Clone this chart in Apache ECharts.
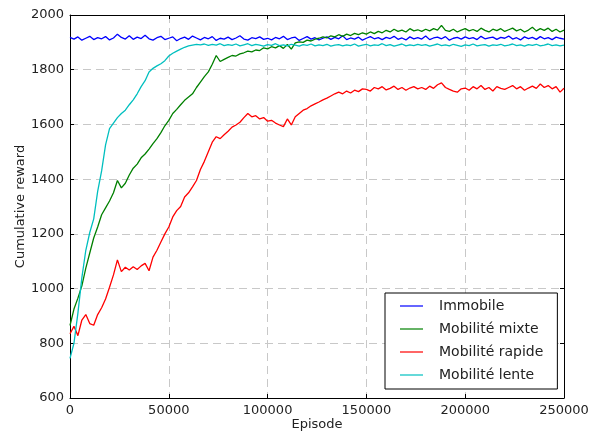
<!DOCTYPE html>
<html><head><meta charset="utf-8">
<script src="https://cdn.jsdelivr.net/npm/echarts@6/dist/echarts.min.js"></script>
<style>html,body{margin:0;padding:0;background:#fff}#c{width:589px;height:434px}</style>
</head><body><div id="c"></div>
<script>
const episodes = [0,2000,4000,6000,8000,10000,12000,14000,16000,18000,
20000,22000,24000,26000,28000,30000,32000,34000,36000,38000,
40000,42000,44000,46000,48000,50000,52000,54000,56000,58000,
60000,62000,64000,66000,68000,70000,72000,74000,76000,78000,
80000,82000,84000,86000,88000,90000,92000,94000,96000,98000,
100000,102000,104000,106000,108000,110000,112000,114000,116000,118000,
120000,122000,124000,126000,128000,130000,132000,134000,136000,138000,
140000,142000,144000,146000,148000,150000,152000,154000,156000,158000,
160000,162000,164000,166000,168000,170000,172000,174000,176000,178000,
180000,182000,184000,186000,188000,190000,192000,194000,196000,198000,
200000,202000,204000,206000,208000,210000,212000,214000,216000,218000,
220000,222000,224000,226000,228000,230000,232000,234000,236000,238000,
240000,242000,244000,246000,248000,250000];

const immobile = [1918,1912,1920,1908,1915,1922,1910,1917,1913,1921,
1909,1916,1930,1918,1912,1924,1911,1919,1914,1926,
1913,1908,1917,1922,1910,1915,1920,1906,1914,1919,
1911,1923,1916,1909,1918,1913,1921,1907,1915,1912,
1919,1910,1916,1924,1912,1908,1917,1914,1920,1911,
1915,1909,1918,1913,1922,1910,1916,1919,1907,1914,
1921,1912,1917,1909,1915,1920,1911,1918,1913,1924,
1910,1916,1912,1919,1908,1915,1921,1913,1917,1910,
1918,1914,1922,1911,1916,1909,1920,1913,1917,1912,
1923,1910,1916,1919,1913,1921,1908,1915,1918,1912,
1920,1914,1917,1910,1922,1913,1916,1919,1911,1918,
1915,1923,1912,1917,1909,1920,1914,1918,1911,1921,
1913,1917,1910,1919,1915,1912];

const mixte = [865,925,965,1010,1075,1130,1185,1225,1270,1295,
1320,1350,1395,1368,1385,1415,1440,1455,1478,1492,
1510,1530,1548,1570,1595,1615,1640,1655,1672,1688,
1700,1712,1735,1755,1775,1792,1820,1852,1830,1838,
1845,1852,1850,1858,1862,1868,1865,1872,1870,1880,
1876,1884,1880,1888,1878,1892,1875,1898,1902,1900,
1908,1905,1912,1915,1920,1916,1924,1920,1928,1922,
1930,1925,1933,1928,1935,1930,1938,1932,1940,1935,
1944,1938,1948,1940,1945,1938,1950,1942,1946,1940,
1948,1942,1950,1945,1962,1944,1940,1948,1938,1945,
1950,1942,1947,1940,1952,1944,1938,1948,1943,1950,
1940,1946,1952,1942,1948,1938,1945,1955,1942,1950,
1944,1952,1940,1948,1938,1945];

const rapide = [835,862,828,885,905,872,866,905,930,962,
1005,1050,1105,1062,1078,1068,1080,1070,1083,1092,
1065,1115,1140,1170,1200,1225,1262,1285,1300,1335,
1350,1372,1395,1435,1465,1500,1535,1555,1548,1562,
1575,1590,1598,1608,1625,1640,1628,1632,1620,1625,
1612,1615,1605,1598,1592,1620,1598,1628,1640,1652,
1658,1668,1675,1682,1690,1696,1704,1712,1718,1712,
1722,1715,1725,1720,1730,1728,1722,1735,1730,1738,
1726,1732,1740,1728,1735,1725,1733,1738,1730,1735,
1728,1740,1732,1745,1752,1735,1728,1722,1718,1730,
1733,1725,1738,1730,1742,1728,1735,1722,1738,1732,
1728,1735,1742,1730,1738,1725,1733,1740,1732,1748,
1735,1742,1730,1738,1718,1732];

const lente = [745,800,910,1040,1140,1205,1255,1355,1430,1525,
1585,1605,1625,1640,1652,1672,1690,1712,1738,1760,
1792,1805,1814,1822,1833,1850,1860,1868,1875,1882,
1887,1890,1893,1891,1894,1889,1893,1890,1895,1888,
1892,1889,1894,1887,1891,1895,1888,1893,1890,1886,
1892,1889,1895,1888,1891,1887,1893,1890,1886,1892,
1889,1894,1887,1891,1888,1893,1886,1890,1892,1887,
1891,1888,1894,1886,1890,1893,1887,1891,1889,1895,
1888,1892,1886,1890,1894,1887,1891,1888,1893,1889,
1892,1886,1890,1894,1888,1891,1887,1893,1889,1885,
1891,1888,1894,1887,1890,1892,1886,1891,1889,1893,
1887,1890,1894,1888,1891,1886,1892,1889,1893,1887,
1890,1894,1888,1891,1887,1890];

const seriesNames = ['Immobile','Mobilité mixte','Mobilité rapide','Mobilité lente'];
const seriesColors = ['#0000ff','#008000','#ff0000','#00bfbf'];
const seriesValues = [immobile, mixte, rapide, lente];

const FONT = 'DejaVu Sans';
const chart = echarts.init(document.getElementById('c'), null, {renderer:'canvas'});
const gridLine = {show:true, lineStyle:{color:'#c8c8c8', type:[8,5], width:1}};
const axisLine = {show:true, onZero:false, lineStyle:{color:'#000', width:1}};
const tick = {show:true, inside:true, length:4, lineStyle:{color:'#000'}};
const plain = v => String(v);
chart.setOption({
  animation:false,
  backgroundColor:'#fff',
  grid:{left:70, right:25, top:15, bottom:36, containLabel:false, outerBoundsMode:'none'},
  xAxis:[{
    type:'value', min:0, max:250000, interval:50000, position:'bottom',
    axisLine, axisTick:tick, splitLine:gridLine,
    axisLabel:{color:'#222', fontFamily:FONT, fontSize:13, margin:6, formatter:plain},
    name:'Episode', nameLocation:'middle', nameGap:20, nameMoveOverlap:false,
    nameTextStyle:{color:'#222', fontFamily:FONT, fontSize:13}
  },{
    type:'value', min:0, max:250000, interval:50000, position:'top',
    axisLine, axisTick:tick, splitLine:{show:false}, axisLabel:{show:false}
  }],
  yAxis:[{
    type:'value', min:600, max:2000, interval:200, position:'left',
    axisLine, axisTick:tick, splitLine:gridLine,
    axisLabel:{color:'#222', fontFamily:FONT, fontSize:13, margin:6, formatter:plain},
    name:'Cumulative reward', nameLocation:'middle', nameGap:43, nameMoveOverlap:false,
    nameTextStyle:{color:'#222', fontFamily:FONT, fontSize:13}
  },{
    type:'value', min:600, max:2000, interval:200, position:'right',
    axisLine, axisTick:tick, splitLine:{show:false}, axisLabel:{show:false}
  }],
  legend:{
    left:385, top:293, orient:'vertical',
    backgroundColor:'#fff', borderColor:'#000', borderWidth:1, borderRadius:0,
    padding:[6,14,7,14], itemWidth:23, itemHeight:14, itemGap:9,
    textStyle:{color:'#222', fontFamily:FONT, fontSize:14, padding:[0,0,0,11]},
    itemStyle:{opacity:0},
    lineStyle:{width:2, opacity:0.6},
    data:seriesNames
  },
  series: seriesNames.map((n,k)=>({
    name:n, type:'line', showSymbol:false, symbol:'none',
    color:seriesColors[k],
    lineStyle:{width:1.3, color:seriesColors[k]},
    data: episodes.map((x,i)=>[x, seriesValues[k][i]])
  }))
});
</script></body></html>
